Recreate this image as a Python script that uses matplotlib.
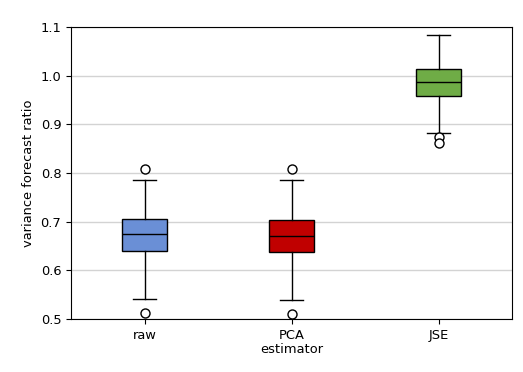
import matplotlib
matplotlib.use("Agg")
import matplotlib.pyplot as plt

labels = ["raw", "PCA", "JSE"]
q1 = [0.640, 0.638, 0.958]
med = [0.674, 0.671, 0.986]
q3 = [0.705, 0.704, 1.014]
whislo = [0.542, 0.540, 0.883]
whishi = [0.786, 0.785, 1.084]
fliers = [[0.808, 0.512], [0.808, 0.510], [0.875, 0.861]]
colors = ["#6a8fd6", "#c00000", "#6fac46"]

plt.rcParams["font.size"] = 9.4

stats = []
for i in range(len(labels)):
    stats.append(dict(label=labels[i], q1=q1[i], med=med[i], q3=q3[i],
                      whislo=whislo[i], whishi=whishi[i], fliers=fliers[i]))

fig = plt.figure(figsize=(5.23, 3.72), dpi=100)
ax = fig.add_axes([0.1358, 0.1425, 0.8432, 0.7849])

bp = ax.bxp(stats, widths=0.3, patch_artist=True,
            medianprops=dict(color="black", linewidth=1),
            boxprops=dict(edgecolor="black", linewidth=1),
            flierprops=dict(marker="o", markerfacecolor="white",
                            markeredgecolor="black", markersize=6.5))
for patch, c in zip(bp["boxes"], colors):
    patch.set_facecolor(c)

ax.set_ylim(0.5, 1.1)
ax.set_xlim(0.5, 3.5)
ax.yaxis.grid(True, color="#d3d3d3", linewidth=1)
ax.set_axisbelow(True)
ax.set_xlabel("estimator", labelpad=1)
ax.set_ylabel("variance forecast ratio")

fig.savefig("out.png", dpi=100)
